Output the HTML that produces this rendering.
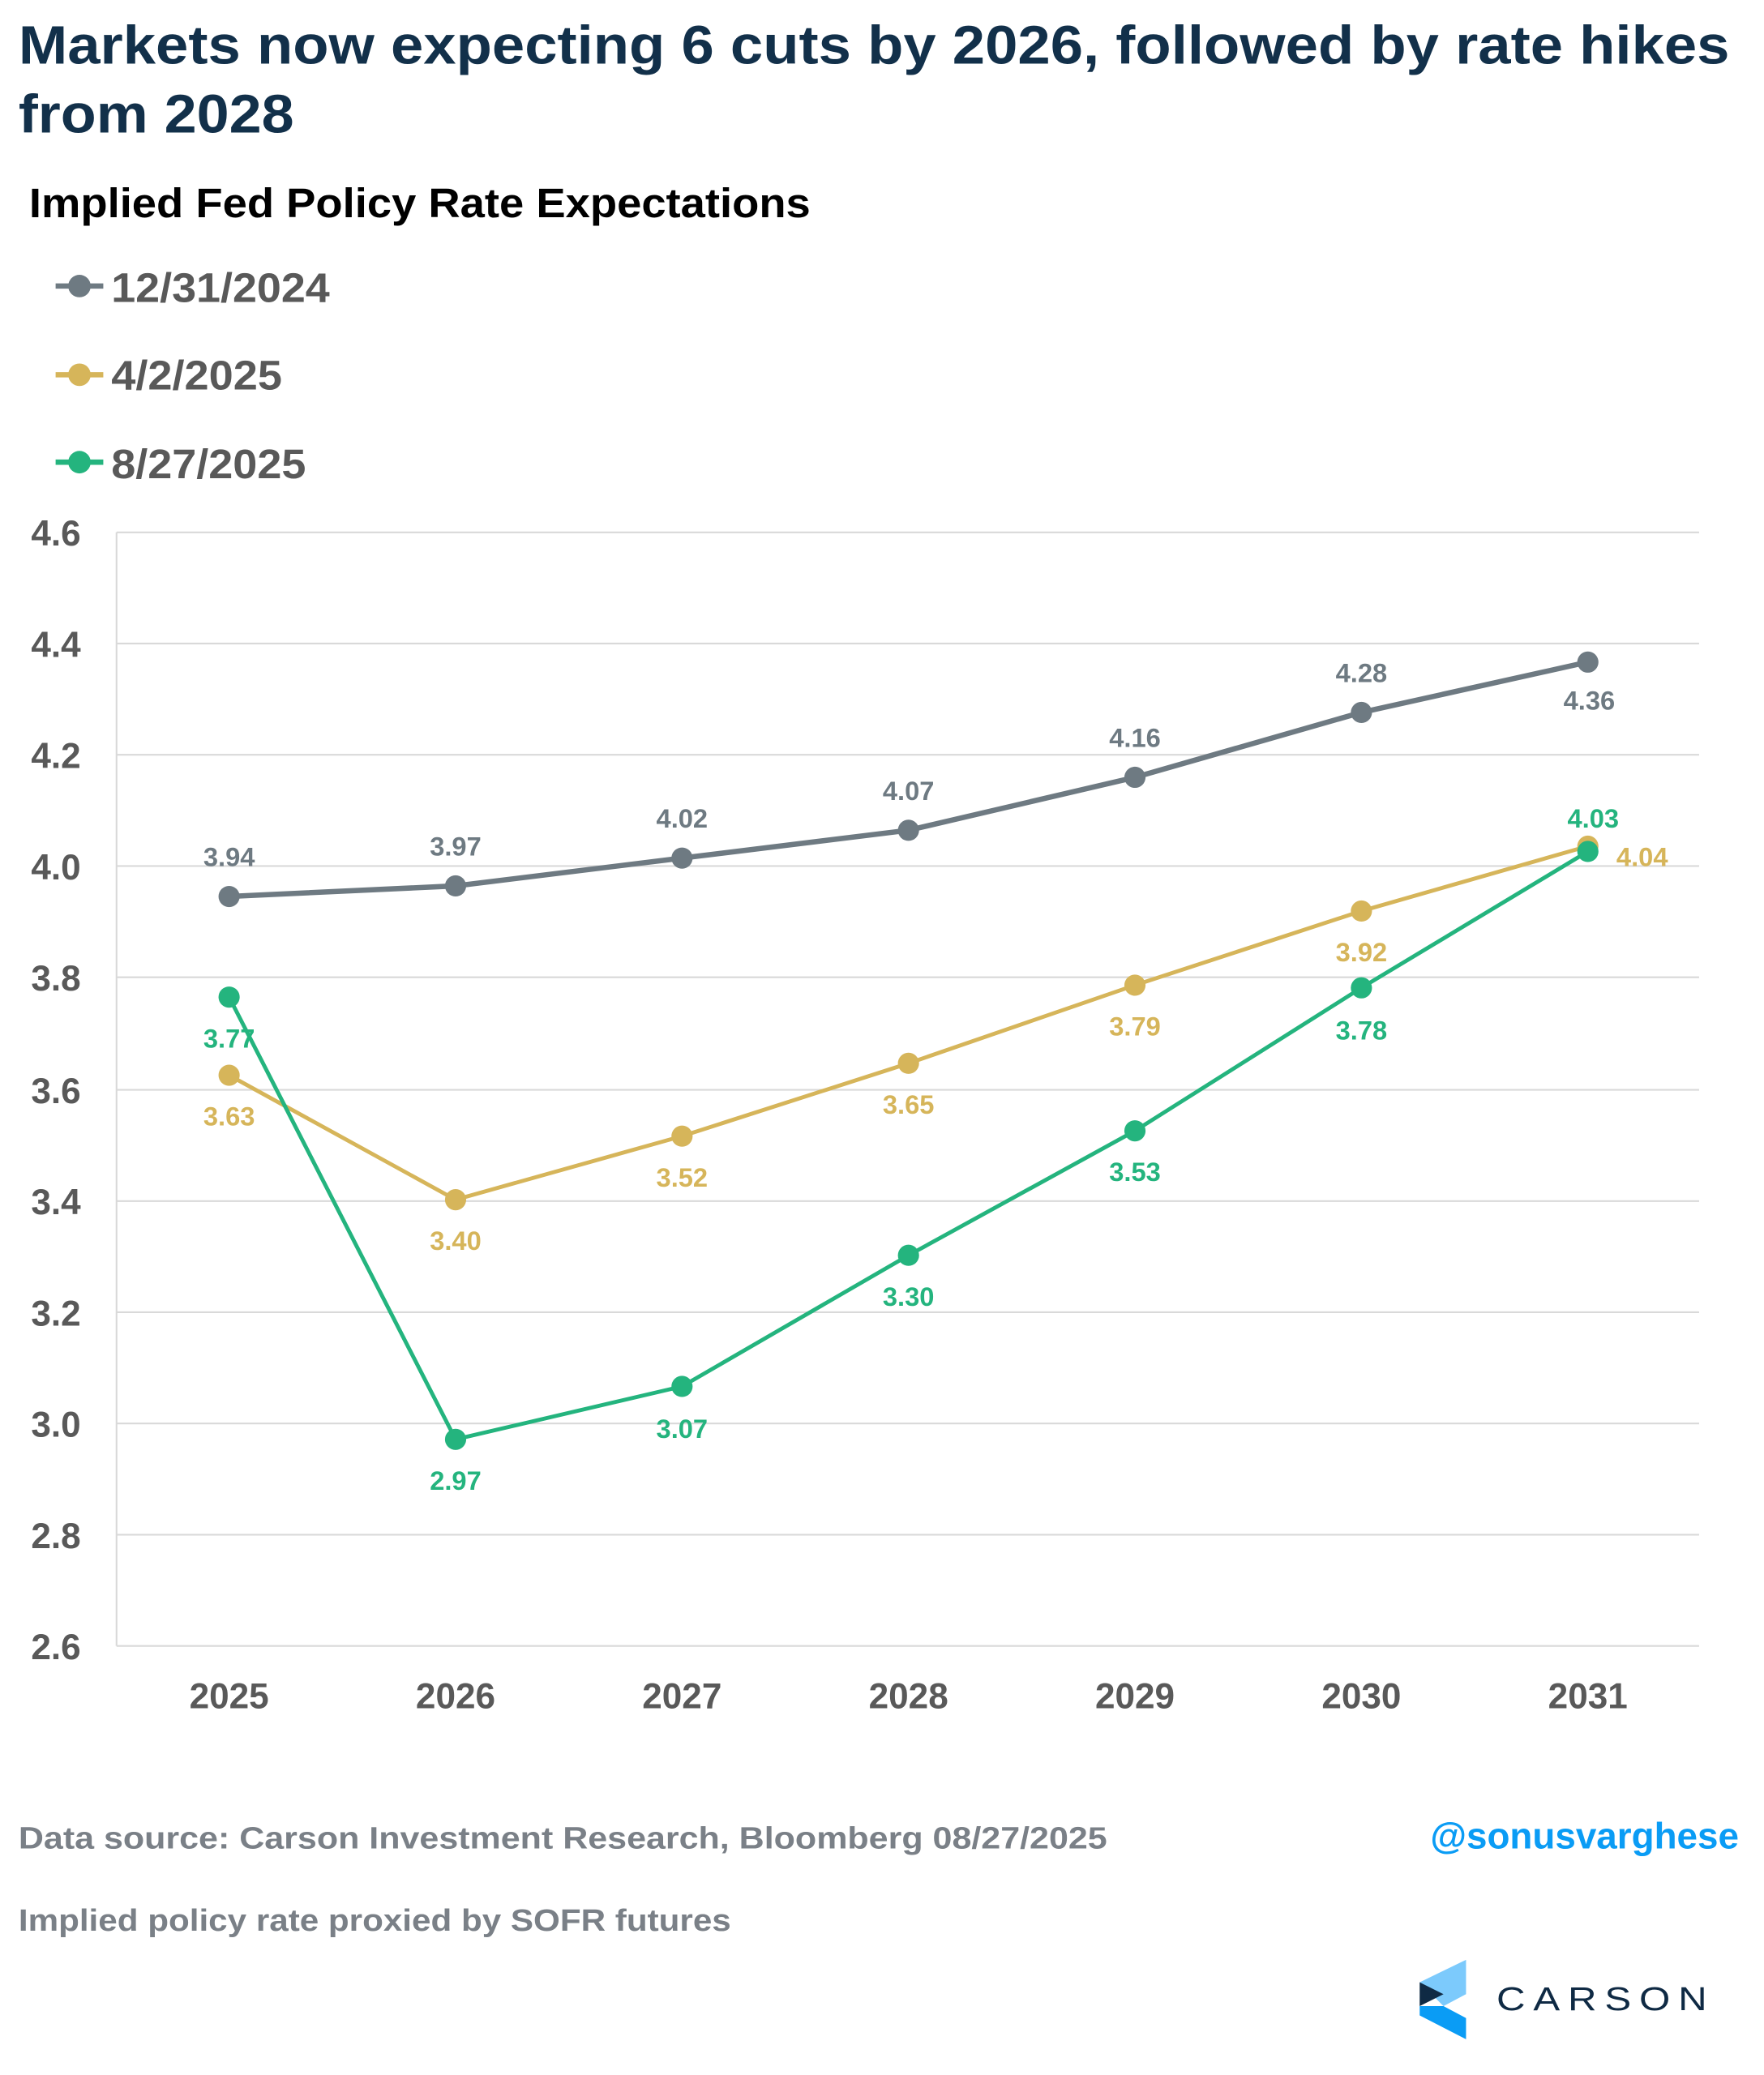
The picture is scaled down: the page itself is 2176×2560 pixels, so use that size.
<!DOCTYPE html>
<html><head><meta charset="utf-8"><style>html,body{margin:0;padding:0;background:#fff}svg{display:block}</style></head>
<body>
<svg width="2176" height="2560" viewBox="0 0 1332 1567" xmlns="http://www.w3.org/2000/svg" font-family="Liberation Sans, sans-serif" font-weight="bold">
<rect width="1332" height="1567" fill="#fff"/>
<text x="14" y="48" font-size="41" fill="#12304a" textLength="1292" lengthAdjust="spacingAndGlyphs">Markets now expecting 6 cuts by 2026, followed by rate hikes</text>
<text x="14" y="100" font-size="41" fill="#12304a" textLength="208" lengthAdjust="spacingAndGlyphs">from 2028</text>
<text x="22" y="164" font-size="31" fill="#000" textLength="590" lengthAdjust="spacingAndGlyphs">Implied Fed Policy Rate Expectations</text>
<g font-size="31" fill="#595959">
<line x1="42" y1="216" x2="78" y2="216" stroke="#6e7a82" stroke-width="4"/><circle cx="60" cy="216" r="8.5" fill="#6e7a82"/>
<text x="84" y="228" textLength="165" lengthAdjust="spacingAndGlyphs">12/31/2024</text>
<line x1="42" y1="283" x2="78" y2="283" stroke="#d6b55a" stroke-width="4"/><circle cx="60" cy="283" r="8.5" fill="#d6b55a"/>
<text x="84" y="294" textLength="129" lengthAdjust="spacingAndGlyphs">4/2/2025</text>
<line x1="42" y1="349" x2="78" y2="349" stroke="#24b47e" stroke-width="4"/><circle cx="60" cy="349" r="8.5" fill="#24b47e"/>
<text x="84" y="361" textLength="147" lengthAdjust="spacingAndGlyphs">8/27/2025</text>
</g>
<g stroke="#d9d9d9" stroke-width="1.3">
<line x1="88" y1="402" x2="1283" y2="402"/><line x1="88" y1="486" x2="1283" y2="486"/><line x1="88" y1="570" x2="1283" y2="570"/><line x1="88" y1="654" x2="1283" y2="654"/><line x1="88" y1="738" x2="1283" y2="738"/><line x1="88" y1="823" x2="1283" y2="823"/><line x1="88" y1="907" x2="1283" y2="907"/><line x1="88" y1="991" x2="1283" y2="991"/><line x1="88" y1="1075" x2="1283" y2="1075"/><line x1="88" y1="1159" x2="1283" y2="1159"/><line x1="88" y1="1243" x2="1283" y2="1243"/>
<line x1="88" y1="402" x2="88" y2="1243"/>
</g>
<g font-size="27" fill="#595959" text-anchor="end">
<text x="61" y="412">4.6</text><text x="61" y="496">4.4</text><text x="61" y="580">4.2</text><text x="61" y="664">4.0</text><text x="61" y="748">3.8</text><text x="61" y="833">3.6</text><text x="61" y="917">3.4</text><text x="61" y="1001">3.2</text><text x="61" y="1085">3.0</text><text x="61" y="1169">2.8</text><text x="61" y="1253">2.6</text>
</g>
<g font-size="27" fill="#595959" text-anchor="middle">
<text x="173" y="1290">2025</text><text x="344" y="1290">2026</text><text x="515" y="1290">2027</text><text x="686" y="1290">2028</text><text x="857" y="1290">2029</text><text x="1028" y="1290">2030</text><text x="1199" y="1290">2031</text>
</g>
<polyline fill="none" stroke="#6e7a82" stroke-width="4" points="173,677 344,669 515,648 686,627 857,587 1028,538 1199,500"/>
<g fill="#6e7a82"><circle cx="173" cy="677" r="8"/><circle cx="344" cy="669" r="8"/><circle cx="515" cy="648" r="8"/><circle cx="686" cy="627" r="8"/><circle cx="857" cy="587" r="8"/><circle cx="1028" cy="538" r="8"/><circle cx="1199" cy="500" r="8"/></g>
<polyline fill="none" stroke="#d6b55a" stroke-width="3" points="173,812 344,906 515,858 686,803 857,744 1028,688 1199,639"/>
<g fill="#d6b55a"><circle cx="173" cy="812" r="8"/><circle cx="344" cy="906" r="8"/><circle cx="515" cy="858" r="8"/><circle cx="686" cy="803" r="8"/><circle cx="857" cy="744" r="8"/><circle cx="1028" cy="688" r="8"/><circle cx="1199" cy="639" r="8"/></g>
<polyline fill="none" stroke="#24b47e" stroke-width="3" points="173,753 344,1087 515,1047 686,948 857,854 1028,746 1199,643"/>
<g fill="#24b47e"><circle cx="173" cy="753" r="8"/><circle cx="344" cy="1087" r="8"/><circle cx="515" cy="1047" r="8"/><circle cx="686" cy="948" r="8"/><circle cx="857" cy="854" r="8"/><circle cx="1028" cy="746" r="8"/><circle cx="1199" cy="643" r="8"/></g>
<g font-size="20" text-anchor="middle">
<g fill="#6e7a82"><text x="173" y="654">3.94</text><text x="344" y="646">3.97</text><text x="515" y="625">4.02</text><text x="686" y="604">4.07</text><text x="857" y="564">4.16</text><text x="1028" y="515">4.28</text><text x="1200" y="536">4.36</text></g>
<g fill="#d6b55a"><text x="173" y="850">3.63</text><text x="344" y="944">3.40</text><text x="515" y="896">3.52</text><text x="686" y="841">3.65</text><text x="857" y="782">3.79</text><text x="1028" y="726">3.92</text><text x="1240" y="654">4.04</text></g>
<g fill="#24b47e"><text x="173" y="791">3.77</text><text x="344" y="1125">2.97</text><text x="515" y="1086">3.07</text><text x="686" y="986">3.30</text><text x="857" y="892">3.53</text><text x="1028" y="785">3.78</text><text x="1203" y="625">4.03</text></g>
</g>
<text x="14" y="1396" font-size="23" fill="#7a8087" textLength="822" lengthAdjust="spacingAndGlyphs">Data source: Carson Investment Research, Bloomberg   08/27/2025</text>
<text x="1080" y="1396" font-size="28" fill="#0a9cf5" textLength="233" lengthAdjust="spacingAndGlyphs">@sonusvarghese</text>
<text x="14" y="1458" font-size="23" fill="#7a8087" textLength="538" lengthAdjust="spacingAndGlyphs">Implied policy rate proxied by SOFR futures</text>
<polygon points="1072,1497 1107,1480 1107,1506 1090,1515" fill="#7ccafc"/>
<polygon points="1072,1515 1090,1515 1107,1524 1107,1540 1072,1522" fill="#0a9cf5"/>
<polygon points="1072,1497 1090,1506 1072,1515" fill="#0f2a44"/>
<text x="1130" y="1518" font-size="25" fill="#0f2a44" font-weight="normal" letter-spacing="5" textLength="165" lengthAdjust="spacingAndGlyphs">CARSON</text>
</svg>
</body></html>
